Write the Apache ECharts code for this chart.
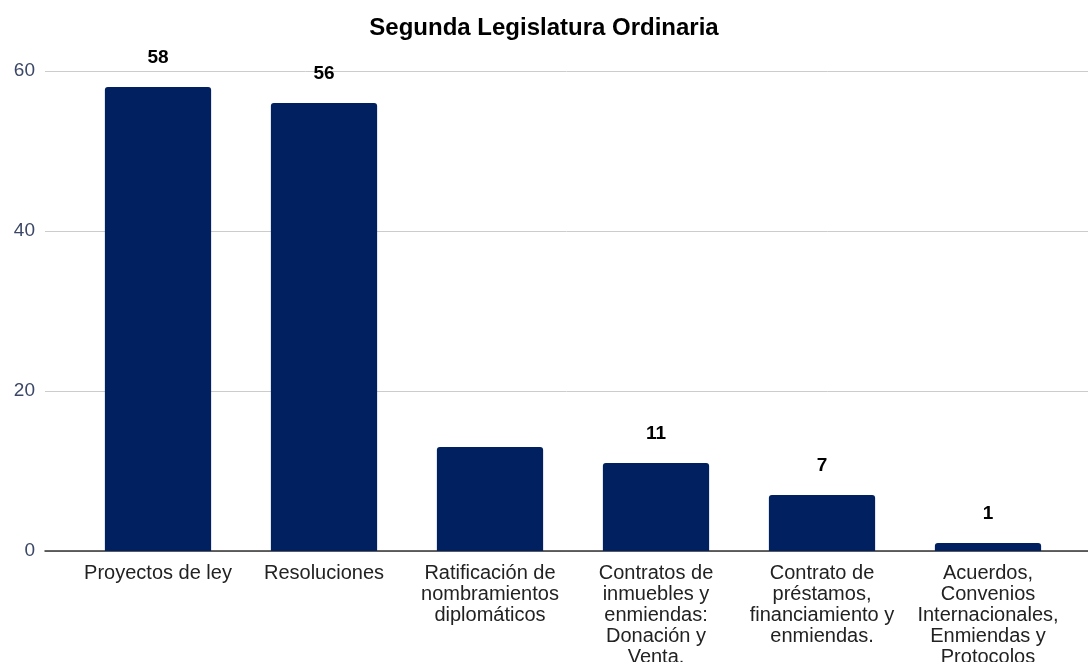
<!DOCTYPE html>
<html><head><meta charset="utf-8">
<script src="https://cdn.jsdelivr.net/npm/echarts@6/dist/echarts.min.js"></script>
<style>html,body{margin:0;padding:0;background:#fff}#c{width:1088px;height:662px}</style>
</head><body><div id="c"></div>
<script>
const categories = [
  "Proyectos de ley",
  "Resoluciones",
  "Ratificación de\nnombramientos\ndiplomáticos",
  "Contratos de\ninmuebles y\nenmiendas:\nDonación y\nVenta.",
  "Contrato de\npréstamos,\nfinanciamiento y\nenmiendas.",
  "Acuerdos,\nConvenios\nInternacionales,\nEnmiendas y\nProtocolos"
];
const values = [58, 56, 13, 11, 7, 1];
const showLabel = [true, true, false, true, true, true];
const yTicks = [0, 20, 40, 60];

const chart = echarts.init(document.getElementById('c'));
const font = 'Liberation Sans, Arial, sans-serif';
chart.setOption({
  animation: false,
  title: {
    text: 'Segunda Legislatura Ordinaria',
    left: 'center', top: 11,
    textStyle: {fontFamily: font, fontSize: 24, fontWeight: 'bold', color: '#000'}
  },
  grid: [
    {left: 45, right: 0, top: 71, bottom: 111, containLabel: false, outerBoundsMode: 'none'},
    {left: 75, right: 17, top: 71, bottom: 111, containLabel: false, outerBoundsMode: 'none'}
  ],
  xAxis: [
    {gridIndex: 0, type: 'category', data: [''], show: true,
     axisLine: {show: true, lineStyle: {color: '#333', width: 1.5}},
     axisTick: {show: false}, axisLabel: {show: false}},
    {gridIndex: 1, type: 'category', data: categories,
     axisLine: {show: false}, axisTick: {show: false},
     axisLabel: {interval: 0, fontFamily: font, fontSize: 20, color: '#222', lineHeight: 21, margin: 12}}
  ],
  yAxis: [
    {gridIndex: 0, type: 'value', min: 0, max: 60, interval: 20,
     axisLine: {show: false}, axisTick: {show: false},
     axisLabel: {fontFamily: font, fontSize: 19, color: '#3b4766', margin: 10, padding: [3, 0, 0, 0],
                 formatter: v => yTicks.includes(v) ? String(v) : ''},
     splitLine: {lineStyle: {color: '#cccccc', width: 1}}},
    {gridIndex: 1, type: 'value', min: 0, max: 60, interval: 20, show: false}
  ],
  series: [{
    type: 'bar', xAxisIndex: 1, yAxisIndex: 1,
    barWidth: '64%',
    data: values.map((v, i) => ({value: v, label: {show: showLabel[i]}})),
    itemStyle: {color: '#012060', borderRadius: [3, 3, 0, 0]},
    label: {position: 'top', distance: 20, fontFamily: font, fontSize: 19,
            fontWeight: 'bold', color: '#000'},
    z: 3
  }]
});
</script></body></html>
